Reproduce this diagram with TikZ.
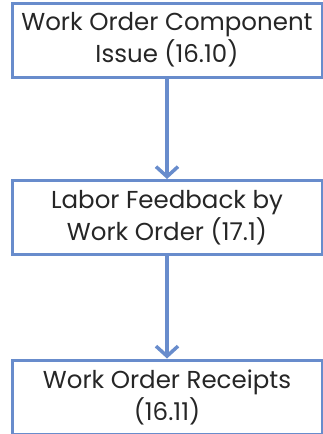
\documentclass[tikz,border=0pt]{standalone}
\usepackage{fontspec}
\setmainfont{Poppins}
\usetikzlibrary{arrows.meta}
\definecolor{boxblue}{RGB}{104,140,204}
\tikzset{stepbox/.style={draw=boxblue, line width=3pt, minimum width=310pt, minimum height=74pt, align=center, inner sep=0pt, font=\fontsize{24.5}{32}\selectfont, text=black!85},
	flow/.style={draw=boxblue, line width=3.5pt, -{Straight Barb[length=10pt,width=22pt]}}}

\begin{document}
\begin{tikzpicture}[x=1pt,y=-1pt]
	\useasboundingbox (0,0) rectangle (323,434);
	
	%boxes
	\node[stepbox] (issue) at (167,40) {Work Order Component\\Issue (16.10)};
	\node[stepbox] (labor) at (167,217.5) {Labor Feedback by\\Work Order (17.1)};
	\node[stepbox] (receipt) at (167,397) {Work Order Receipts\\(16.11)};
	
	%arrows
	\draw[flow] (issue) -- (labor);
	\draw[flow] (labor) -- (receipt);
\end{tikzpicture}
\end{document}
